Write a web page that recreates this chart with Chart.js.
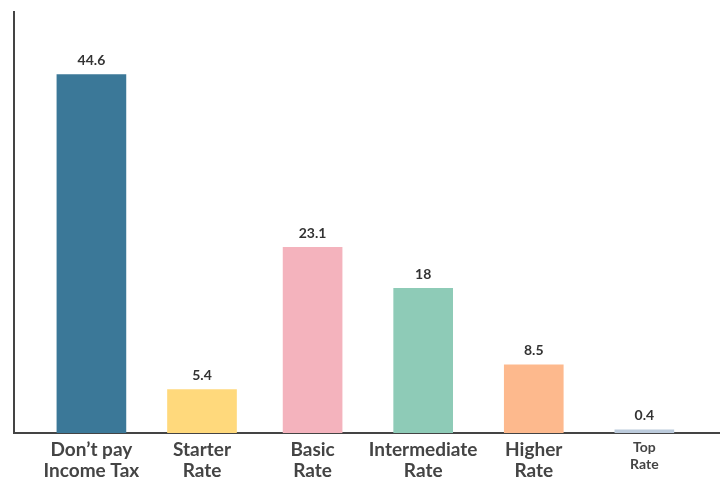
<!DOCTYPE html>
<html>
<head>
<meta charset="utf-8">
<script src="https://cdn.jsdelivr.net/npm/chart.js@4.4.1/dist/chart.umd.min.js"></script>
<style>
  html, body { margin: 0; padding: 0; background: #fff; }
  #wrap { width: 723px; height: 477px; }
</style>
</head>
<body>
<div id="wrap"><canvas id="chart"></canvas></div>
<script>
const categories = [
  ['Don\u2019t pay', 'Income Tax'],
  ['Starter', 'Rate'],
  ['Basic', 'Rate'],
  ['Intermediate', 'Rate'],
  ['Higher', 'Rate'],
  ['Top', 'Rate']
];
const values = [44.6, 5.4, 23.1, 18, 8.5, 0.4];
const colors = ['#3b7898', '#ffd97c', '#f4b3bd', '#8ecbb7', '#fdb98d', '#bccbdc'];
// the first two bars are drawn a little wider than the rest
const wideBars = [true, true, false, false, false, false];

const ink = '#444';
const fontFamily = 'Lato, "Open Sans", sans-serif';

function pick(wide) {
  return values.map((v, i) => ({ x: i, y: wideBars[i] === wide ? v : null }));
}

const valueLabels = {
  id: 'valueLabels',
  afterDatasetsDraw(chart) {
    const ctx = chart.ctx;
    ctx.save();
    ctx.font = 'bold 14px ' + fontFamily;
    ctx.fillStyle = '#333';
    ctx.textAlign = 'center';
    ctx.textBaseline = 'bottom';
    chart.data.datasets.forEach((ds, di) => {
      chart.getDatasetMeta(di).data.forEach((bar, i) => {
        if (ds.data[i].y == null) return;
        ctx.fillText(String(ds.data[i].y), bar.x, bar.y - 7);
      });
    });
    ctx.restore();
  }
};

new Chart(document.getElementById('chart'), {
  type: 'bar',
  data: {
    datasets: [
      { data: pick(true), backgroundColor: colors, barThickness: 69 },
      { data: pick(false), backgroundColor: colors, barThickness: 59 }
    ]
  },
  options: {
    responsive: true,
    maintainAspectRatio: false,
    animation: false,
    layout: { padding: { top: 12, left: 6, right: 4, bottom: 0 } },
    plugins: { legend: { display: false }, tooltip: { enabled: false } },
    scales: {
      x: {
        type: 'linear',
        offset: false,
        min: -0.7,
        max: 5.675,
        grid: { display: false },
        border: { color: ink, width: 2 },
        afterBuildTicks: (scale) => {
          scale.ticks = categories.map((_, i) => ({ value: i }));
        },
        afterFit: (scale) => { scale.height = 44; },
        ticks: {
          autoSkip: false,
          maxRotation: 0,
          padding: -2,
          color: ink,
          callback: (v) => categories[v],
          font: (c) => c.index === 5
            ? { family: fontFamily, size: 14, weight: 'bold', lineHeight: 1.2 }
            : { family: fontFamily, size: 19, weight: 'bold', lineHeight: 1.12 }
        }
      },
      y: {
        min: 0,
        max: 52.4,
        grid: { display: false },
        border: { color: ink, width: 2 },
        ticks: { display: false }
      }
    },
    datasets: { bar: { grouped: false } }
  },
  plugins: [valueLabels]
});
</script>
</body>
</html>
